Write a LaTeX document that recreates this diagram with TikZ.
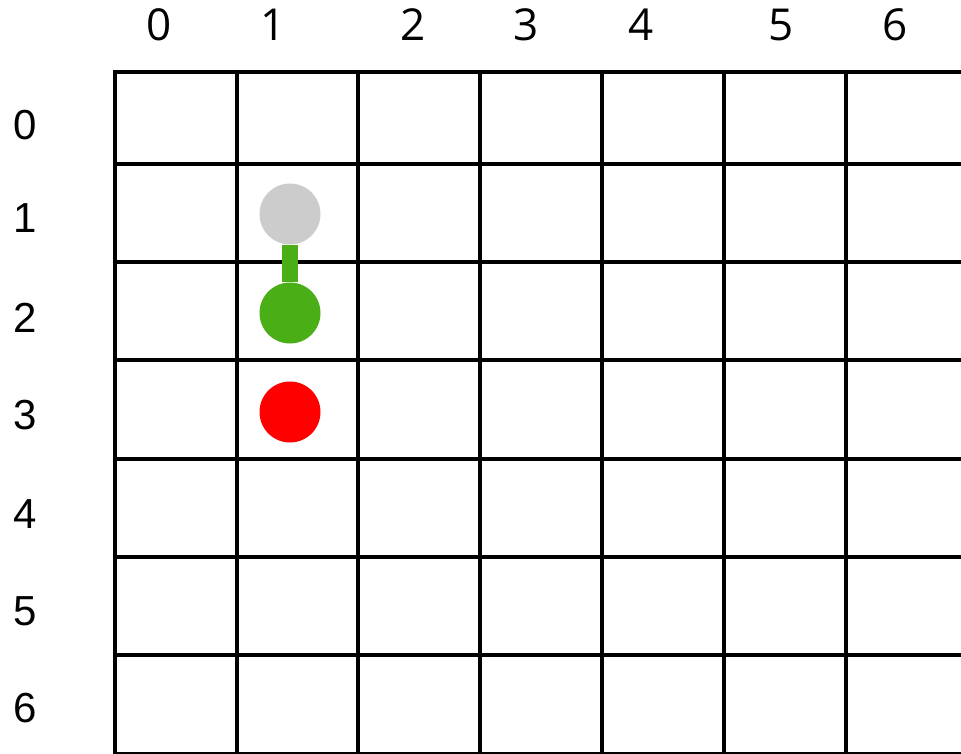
\documentclass[tikz,border=0pt]{standalone}
\usepackage{fontspec}
\setmainfont{Liberation Sans}
\newfontfamily\colfont{Open Sans}
\definecolor{dotgray}{HTML}{CCCCCC}
\definecolor{dotgreen}{HTML}{4AAE16}
\definecolor{dotred}{HTML}{FF0000}
\tikzset{
  gridline/.style={line width=4pt, black},
  collabel/.style={inner sep=0pt, font=\colfont\fontsize{44}{44}\selectfont},
  rowlabel/.style={inner sep=0pt, font=\fontsize{42}{42}\selectfont},
  dot/.style={circle, minimum size=61pt, inner sep=0pt, draw=none},
  link/.style={line width=16pt, dotgreen}
}
\begin{document}
\begin{tikzpicture}[x=1pt, y=-1pt]
\useasboundingbox (0,0) rectangle (961,754);
\fill[white] (0,0) rectangle (961,754);
% grid
\foreach \yy in {72,164,262.2,360.4,458.6,556.8,655,754}
  \draw[gridline] (113,\yy) -- (961,\yy);
\foreach \xx in {115,236.5,358,480,602,724,846}
  \draw[gridline] (\xx,70) -- (\xx,756);
% column labels
\node[collabel] (c0) at (159.5,25) {0};
\node[collabel] (c1) at (273,25) {1};
\node[collabel] (c2) at (413.5,25) {2};
\node[collabel] (c3) at (526.5,25) {3};
\node[collabel] (c4) at (641.5,25) {4};
\node[collabel] (c5) at (781,25) {5};
\node[collabel] (c6) at (895,25) {6};
% row labels
\node[rowlabel] (r0) at (25,125) {0};
\node[rowlabel] (r1) at (25,218) {1};
\node[rowlabel] (r2) at (25,317.5) {2};
\node[rowlabel] (r3) at (25,415) {3};
\node[rowlabel] (r4) at (25,514) {4};
\node[rowlabel] (r5) at (25,611) {5};
\node[rowlabel] (r6) at (25,708) {6};
% dots
\node[dot, fill=dotgray] (g) at (290,214) {};
\node[dot, fill=dotgreen] (s) at (290,313) {};
\node[dot, fill=dotred] (t) at (290,412) {};
\draw[link] (g.south) -- (s.north);
\end{tikzpicture}
\end{document}
